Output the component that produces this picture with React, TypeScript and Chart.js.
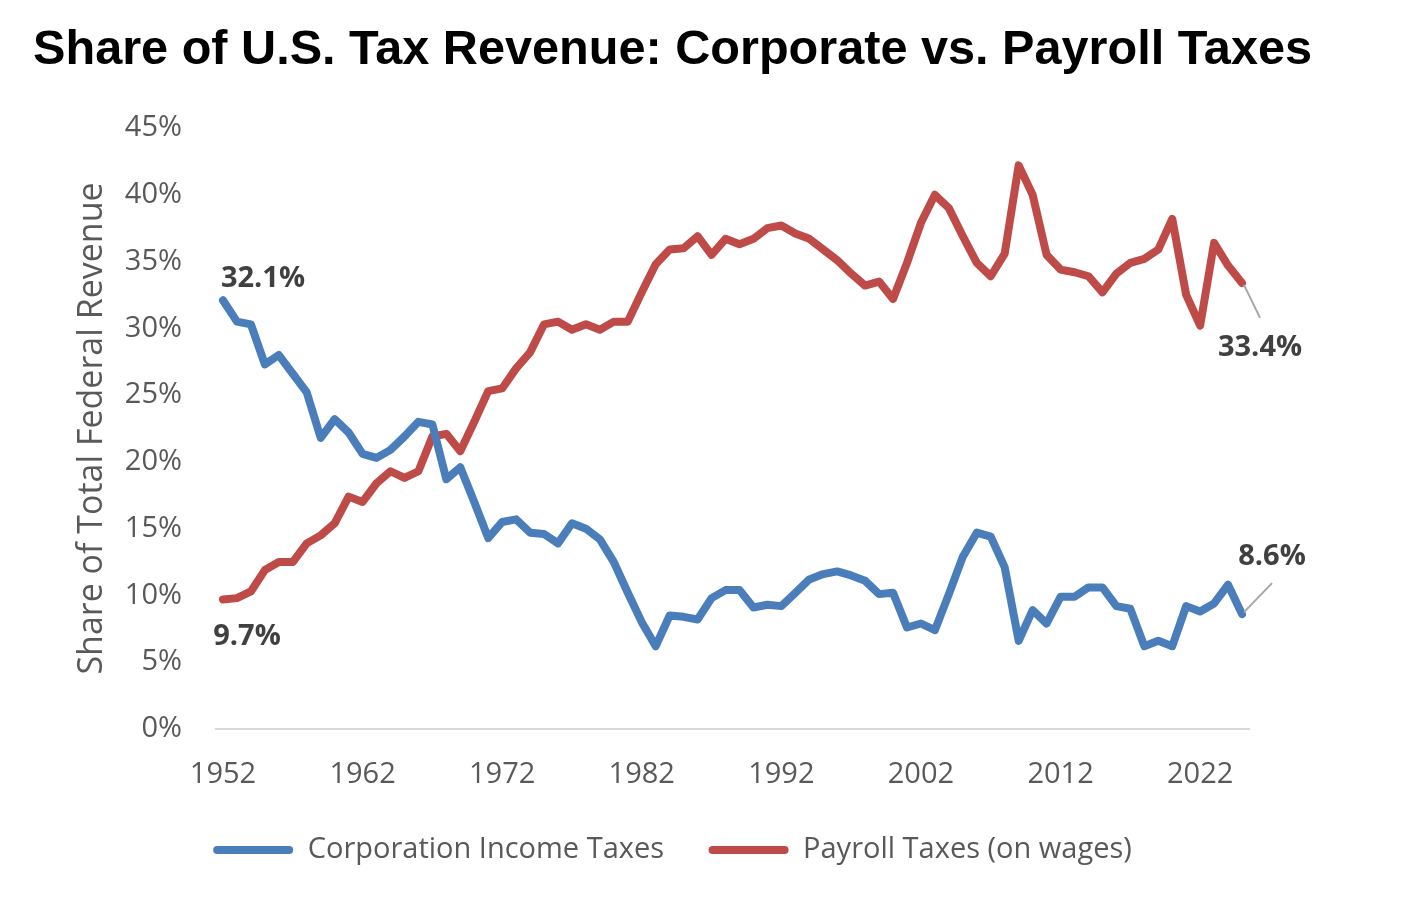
import React, { useEffect, useRef } from "react";
import { Chart, registerables } from "chart.js";

Chart.register(...registerables);

const YEARS = [
  "1952", "1953", "1954", "1955", "1956", "1957", "1958", "1959", "1960", "1961",
  "1962", "1963", "1964", "1965", "1966", "1967", "1968", "1969", "1970", "1971",
  "1972", "1973", "1974", "1975", "1976", "1977", "1978", "1979", "1980", "1981",
  "1982", "1983", "1984", "1985", "1986", "1987", "1988", "1989", "1990", "1991",
  "1992", "1993", "1994", "1995", "1996", "1997", "1998", "1999", "2000", "2001",
  "2002", "2003", "2004", "2005", "2006", "2007", "2008", "2009", "2010", "2011",
  "2012", "2013", "2014", "2015", "2016", "2017", "2018", "2019", "2020", "2021",
  "2022", "2023", "2024", "2025",
];

const CORPORATE = [
  32.1, 30.5, 30.3, 27.3, 28.0, 26.6, 25.2, 21.8, 23.2, 22.2,
  20.6, 20.3, 20.9, 21.9, 23.0, 22.8, 18.7, 19.6, 17.0, 14.3,
  15.5, 15.7, 14.7, 14.6, 13.9, 15.4, 15.0, 14.2, 12.5, 10.2,
  8.0, 6.2, 8.5, 8.4, 8.2, 9.8, 10.4, 10.4, 9.1, 9.3,
  9.2, 10.2, 11.2, 11.6, 11.8, 11.5, 11.1, 10.1, 10.2, 7.6,
  7.9, 7.4, 10.1, 12.9, 14.7, 14.4, 12.1, 6.6, 8.9, 7.9,
  9.9, 9.9, 10.6, 10.6, 9.2, 9.0, 6.2, 6.6, 6.2, 9.2,
  8.8, 9.4, 10.8, 8.6,
];

const PAYROLL = [
  9.7, 9.8, 10.3, 11.9, 12.5, 12.5, 13.9, 14.5, 15.4, 17.4,
  17.0, 18.4, 19.3, 18.8, 19.3, 21.9, 22.1, 20.8, 23.0, 25.3,
  25.5, 27.0, 28.2, 30.3, 30.5, 29.9, 30.3, 29.9, 30.5, 30.5,
  32.7, 34.8, 35.9, 36.0, 36.9, 35.5, 36.7, 36.3, 36.7, 37.5,
  37.7, 37.1, 36.7, 35.9, 35.1, 34.1, 33.2, 33.5, 32.2, 34.9,
  37.9, 40.0, 39.0, 36.9, 34.9, 33.9, 35.6, 42.2, 40.0, 35.5,
  34.4, 34.2, 33.9, 32.7, 34.1, 34.9, 35.2, 35.9, 38.2, 32.5,
  30.2, 36.4, 34.7, 33.4,
];

const X_TICK_LABELS = ["1952", "1962", "1972", "1982", "1992", "2002", "2012", "2022"];
const Y_MIN = 0;
const Y_MAX = 45;
const Y_STEP = 5;

const TITLE = "Share of U.S. Tax Revenue: Corporate vs. Payroll Taxes";
const Y_TITLE = "Share of Total Federal Revenue";
const SERIES_NAMES = ["Corporation Income Taxes", "Payroll Taxes (on wages)"];
const SERIES_COLORS = ["#4a7ebb", "#be4b48"];

const TEXT_GRAY = "#595959";
const LABEL_GRAY = "#404040";
const FONT = "'Open Sans', 'Noto Sans', sans-serif";

export default function App() {
  const ref = useRef<HTMLCanvasElement>(null);

  useEffect(() => {
    const canvas = ref.current;
    if (!canvas) return;

    const endLabels = {
      id: "endLabels",
      afterDatasetsDraw(chart: any) {
        const ctx = chart.ctx;
        const last = YEARS.length - 1;
        const specs = [
          { ds: 0, idx: 0, dx: 40, dy: -23, leader: null },
          { ds: 1, idx: 0, dx: 24, dy: 36, leader: null },
          { ds: 1, idx: last, dx: 18, dy: 64, leader: [18, 35] },
          { ds: 0, idx: last, dx: 30, dy: -58, leader: [30, -31] },
        ];
        ctx.save();
        for (const s of specs) {
          const pt = chart.getDatasetMeta(s.ds).data[s.idx];
          const value = chart.data.datasets[s.ds].data[s.idx] as number;
          if (s.leader) {
            ctx.beginPath();
            ctx.strokeStyle = "#a6a6a6";
            ctx.lineWidth = 2;
            ctx.moveTo(pt.x + 2, pt.y + (s.leader[1] > 0 ? 2 : -2));
            ctx.lineTo(pt.x + s.leader[0], pt.y + s.leader[1]);
            ctx.stroke();
          }
          ctx.font = `bold 29px ${FONT}`;
          ctx.fillStyle = LABEL_GRAY;
          ctx.textAlign = "center";
          ctx.textBaseline = "middle";
          ctx.fillText(`${value.toFixed(1)}%`, pt.x + s.dx, pt.y + s.dy + 1);
        }
        ctx.restore();
      },
    };

    const chart = new Chart(canvas, {
      type: "line",
      data: {
        labels: YEARS,
        datasets: [
          {
            label: SERIES_NAMES[0],
            data: CORPORATE,
            borderColor: SERIES_COLORS[0],
            backgroundColor: SERIES_COLORS[0],
            borderWidth: 8,
            pointRadius: 0,
            tension: 0,
            borderJoinStyle: "round",
            borderCapStyle: "round",
            yAxisID: "y",
          },
          {
            label: SERIES_NAMES[1],
            data: PAYROLL,
            borderColor: SERIES_COLORS[1],
            backgroundColor: SERIES_COLORS[1],
            borderWidth: 8,
            pointRadius: 0,
            tension: 0,
            borderJoinStyle: "round",
            borderCapStyle: "round",
            yAxisID: "y",
          },
        ],
      },
      options: {
        responsive: false,
        animation: false,
        layout: { padding: { left: 33, right: 105, top: 0, bottom: 29.5 } },
        scales: {
          x: {
            type: "category",
            offset: true,
            grid: { display: false, drawTicks: false },
            border: { display: true, color: "#d9d9d9", width: 2 },
            ticks: {
              autoSkip: false,
              maxRotation: 0,
              minRotation: 0,
              padding: 28,
              color: TEXT_GRAY,
              font: { family: FONT, size: 29 },
              callback: function (this: any, val: any) {
                const l = this.getLabelForValue(val);
                return X_TICK_LABELS.includes(l) ? l : "";
              },
            },
            afterFit: (s: any) => {
              s.height = 62;
            },
          },
          y: {
            min: Y_MIN,
            max: Y_MAX,
            grid: { display: false, drawTicks: false },
            border: { display: false },
            ticks: {
              stepSize: Y_STEP,
              padding: 34,
              color: TEXT_GRAY,
              font: { family: FONT, size: 29 },
              callback: (v: any) => `${v}%`,
            },
            title: {
              display: true,
              text: Y_TITLE,
              color: TEXT_GRAY,
              font: { family: FONT, size: 34 },
              padding: { top: 38.6, bottom: 0 },
            },
            afterFit: (s: any) => {
              s.width = 183;
            },
          },
          y2: {
            type: "linear",
            position: "right",
            display: true,
            grid: { display: false, drawTicks: false },
            border: { display: false },
            ticks: { display: false },
            afterFit: (s: any) => {
              s.width = 63;
            },
          },
        },
        plugins: {
          title: {
            display: true,
            text: TITLE,
            align: "start",
            color: "#000000",
            font: { family: "'Liberation Sans', Arial, sans-serif", size: 49, weight: "bold" },
            padding: { top: 21, bottom: 48.2 },
          },
          legend: {
            display: true,
            position: "bottom",
            labels: {
              boxWidth: 80,
              boxHeight: 8,
              padding: 44.5,
              color: TEXT_GRAY,
              font: { family: FONT, size: 29 },
              useBorderRadius: true,
              borderRadius: 4,
              generateLabels: (c: any) =>
                c.data.datasets.map((ds: any, i: number) => ({
                  text: ds.label,
                  fillStyle: ds.borderColor,
                  strokeStyle: ds.borderColor,
                  lineWidth: 0,
                  hidden: false,
                  datasetIndex: i,
                  borderRadius: 4,
                  fontColor: TEXT_GRAY,
                })),
            },
          },
          tooltip: { enabled: false },
        },
      },
      plugins: [endLabels],
    } as any);

    return () => chart.destroy();
  }, []);

  return (
    <div style={{ position: "absolute", left: 0, top: 0, width: 1417, height: 904, background: "#ffffff" }}>
      <canvas ref={ref} width={1417} height={904} style={{ display: "block" }} />
    </div>
  );
}
